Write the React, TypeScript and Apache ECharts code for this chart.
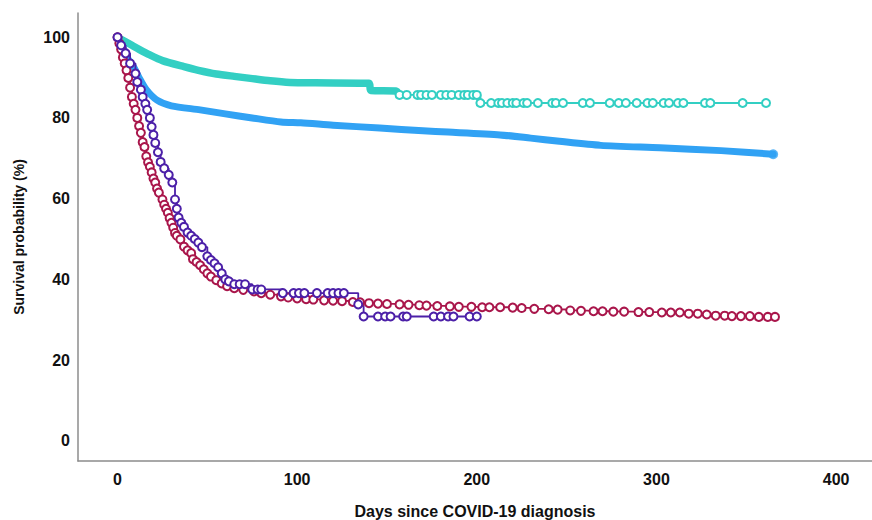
import React, { useEffect, useRef } from "react";
import * as echarts from "echarts";

const xTicks = [0, 100, 200, 300, 400];
const yTicks = [0, 20, 40, 60, 80, 100];

// Dense (heavily censored) parts drawn as thick bands
const tealDense: number[][] = [
  [0, 100], [4, 99], [8, 98], [12, 97], [18, 95.6], [25, 94.2], [37, 92.7], [45, 91.8],
  [55, 90.9], [65, 90.3], [74, 89.8], [85, 89.2], [96, 88.8], [110, 88.7], [140, 88.6],
  [141, 86.8], [155, 86.7], [157, 85.7],
];
const tealSparse: number[][] = [
  [157, 85.7], [161, 85.7], [167, 85.7], [169, 85.7], [172, 85.7], [175, 85.7], [180, 85.7],
  [183, 85.7], [186, 85.7], [190, 85.7], [193, 85.7], [195, 85.7], [198, 85.7], [200, 85.7],
  [202, 83.7], [208, 83.7], [212, 83.7], [214, 83.7], [217, 83.7], [220, 83.7], [222, 83.7],
  [226, 83.7], [228, 83.7], [234, 83.7], [242, 83.7], [244, 83.7], [248, 83.7], [259, 83.7],
  [263, 83.7], [274, 83.7], [279, 83.7], [283, 83.7], [289, 83.7], [295, 83.7], [298, 83.7],
  [304, 83.7], [307, 83.7], [312, 83.7], [315, 83.7], [327, 83.7], [330, 83.7], [348, 83.7],
  [361, 83.7],
];
const blueBand: number[][] = [
  [0, 100], [3, 97.5], [6, 94.5], [9, 92.6], [12, 90], [16, 87], [22, 84.4], [30, 83],
  [46, 82], [60, 81], [75, 80], [91, 79], [102, 78.8], [120, 78.2], [146, 77.5], [170, 76.8],
  [184, 76.5], [213, 75.8], [230, 75], [246, 74.2], [269, 73.2], [302, 72.6], [336, 71.9],
  [365, 71],
];
const crimson: number[][] = [
  [0, 100], [1, 98.5], [2, 97], [3, 95], [4, 93.5], [5, 91.8], [6, 89.9], [7, 87.5], [8, 85.2],
  [9, 83.5], [10, 82], [11, 80], [12, 78], [13, 76.3], [14, 74], [15, 72.8], [16, 70.5],
  [17, 69], [18, 67.9], [19, 66.5], [20, 65], [21, 64], [22, 62.5], [23, 61.5], [25, 59.8],
  [26, 58.5], [27, 57.5], [28, 56.5], [29, 55.2], [30, 54], [31, 52.8], [32, 51.5], [33, 50.8],
  [35, 49.9], [37, 48.1], [39, 47.2], [41, 46.5], [42, 45], [44, 44.3], [46, 43.5], [48, 42.5],
  [50, 41.5], [52, 40.7], [55, 39.8], [58, 39], [61, 38.3], [65, 37.8], [70, 37.4], [76, 37],
  [80, 36.6], [85, 36.2], [91, 35.8], [95, 35.5], [100, 35.3], [105, 35.1], [109, 35],
  [115, 34.8], [120, 34.7], [125, 34.6], [131, 34.4], [135, 34.3], [140, 34.1], [145, 34],
  [150, 33.9], [157, 33.8], [162, 33.7], [168, 33.6], [172, 33.5], [178, 33.4], [185, 33.3],
  [190, 33.2], [197, 33.2], [203, 33.1], [207, 33.1], [213, 33.1], [220, 33], [225, 32.9],
  [232, 32.7], [240, 32.6], [245, 32.5], [252, 32.3], [258, 32.2], [265, 32.1], [270, 32.1],
  [276, 32], [282, 32], [290, 31.9], [296, 31.9], [303, 31.8], [308, 31.8], [313, 31.8],
  [318, 31.5], [323, 31.5], [328, 31.3], [333, 31], [338, 31], [342, 30.9], [347, 30.9],
  [352, 30.9], [357, 30.7], [362, 30.7], [366, 30.7],
];
const purple: number[][] = [
  [0, 100], [2, 98], [4.5, 96], [7, 93.5], [10, 91], [11, 88.9], [13, 87], [14, 85.2],
  [15.5, 83.5], [16.5, 82], [18, 80], [19, 77.8], [20, 75.8], [21, 73.8], [22.5, 71.5],
  [24, 69.1], [26, 67.5], [28.5, 65.9], [30.5, 64], [32, 59.8], [33, 57.5], [34, 55.3],
  [35.5, 54], [37, 53], [39, 51.6], [41, 50.8], [43, 50], [45, 49.1], [47, 48], [50, 45.7],
  [52, 44.8], [54, 44], [56, 43], [58, 41.5], [60, 40], [62, 39.5], [65, 38.8], [68, 38.8],
  [71, 38.8], [75, 37.5], [78, 37.5], [80, 37.5], [92, 36.6], [98, 36.6], [101, 36.6],
  [104, 36.6], [111, 36.6], [117, 36.6], [120, 36.6], [123, 36.6], [126, 36.6], [134, 33.8],
  [137, 30.8], [145, 30.8], [149, 30.8], [152, 30.8], [159, 30.8], [161, 30.8], [176, 30.8],
  [180, 30.8], [184, 30.8], [187, 30.8], [196, 30.8], [200, 30.8],
];

const TEAL = "#33cfc3";
const BLUE = "#31a2f4";
const CRIMSON = "#a9164b";
const PURPLE = "#4c20a8";

const FONT = "'Liberation Sans', Arial, sans-serif";

export default function App() {
  const ref = useRef<HTMLDivElement>(null);
  useEffect(() => {
    if (!ref.current) return;
    const chart = echarts.init(ref.current, undefined, { renderer: "svg" });
    const marked = (name: string, data: number[][], color: string) => ({
      name,
      type: "line",
      data,
      step: "end",
      showSymbol: true,
      symbol: "circle",
      symbolSize: 8,
      itemStyle: { color: "#fff", borderColor: color, borderWidth: 2 },
      lineStyle: { color, width: 1.8 },
      emphasis: { disabled: true },
    });
    const band = (name: string, data: number[][], color: string, width: number) => ({
      name,
      type: "line",
      data,
      smooth: 0.25,
      showSymbol: false,
      lineStyle: { color, width, cap: "round", join: "round" },
      itemStyle: { color },
      emphasis: { disabled: true },
    });
    const blueEnd = blueBand[blueBand.length - 1];
    chart.setOption({
      animation: false,
      grid: { left: 78, right: 0, top: 13, bottom: 59, outerBoundsMode: "none" },
      xAxis: {
        type: "value",
        min: -22,
        max: 420,
        splitLine: { show: false },
        axisTick: { show: false },
        axisLine: { onZero: false, lineStyle: { color: "#8c8c8c", width: 1.5 } },
        axisLabel: {
          customValues: xTicks,
          color: "#111",
          fontWeight: "bold",
          fontSize: 16,
          fontFamily: FONT,
          margin: 10,
        },
        name: "Days since COVID-19 diagnosis",
        nameLocation: "middle",
        nameGap: 42,
        nameTextStyle: { color: "#111", fontWeight: "bold", fontSize: 16, fontFamily: FONT },
      },
      yAxis: {
        type: "value",
        min: -5,
        max: 106,
        splitLine: { show: false },
        axisTick: { show: false },
        axisLine: { show: true, onZero: false, lineStyle: { color: "#8c8c8c", width: 1.5 } },
        axisLabel: {
          customValues: yTicks,
          color: "#111",
          fontWeight: "bold",
          fontSize: 16,
          fontFamily: FONT,
          margin: 8,
        },
        name: "Survival probability (%)",
        nameLocation: "middle",
        nameGap: 52,
        nameTextStyle: { color: "#111", fontWeight: "bold", fontSize: 14, fontFamily: FONT },
      },
      series: [
        band("blue", blueBand, BLUE, 7),
        {
          name: "blueEnd",
          type: "scatter",
          data: [blueEnd],
          symbol: "circle",
          symbolSize: 8,
          itemStyle: { color: "#fff", borderColor: BLUE, borderWidth: 2 },
          emphasis: { disabled: true },
        },
        band("teal", tealDense, TEAL, 7.5),
        marked("tealSparse", tealSparse, TEAL),
        marked("crimson", crimson, CRIMSON),
        marked("purple", purple, PURPLE),
      ],
    });
    return () => chart.dispose();
  }, []);
  return <div ref={ref} style={{ width: 872, height: 520, position: "absolute", left: 0, top: 0 }} />;
}
